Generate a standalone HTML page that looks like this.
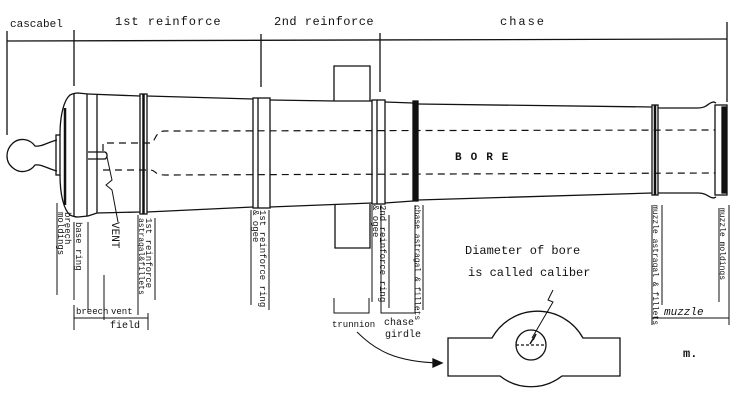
<!DOCTYPE html>
<html><head><meta charset="utf-8"><style>
html,body{margin:0;padding:0;background:#fff;}
svg{display:block;}
text{font-family:"Liberation Mono","DejaVu Sans Mono",monospace;fill:#111;}
.v{font-size:9px;}
</style></head><body>
<svg width="737" height="400" viewBox="0 0 737 400" xmlns="http://www.w3.org/2000/svg" stroke="#111" fill="none" stroke-width="1.3">
<line x1="7" y1="41" x2="727" y2="39"/>
<line x1="7" y1="31" x2="7" y2="135"/>
<line x1="74" y1="30" x2="74" y2="86"/>
<line x1="261" y1="34" x2="261" y2="87"/>
<line x1="380" y1="33" x2="380" y2="92"/>
<line x1="727" y1="22" x2="727" y2="102"/>
<g stroke="none" font-size="12">
<text x="10" y="27" font-size="11">cascabel</text>
<text x="115" y="25" letter-spacing="1">1st  reinforce</text>
<text x="274" y="25" letter-spacing="0.5">2nd reinforce</text>
<text x="500" y="25" letter-spacing="2">chase</text>
</g>
<path d="M57,140 C48,142 42,147 35,146 C30,139 20,137 13,143 C5,150 5,162 13,168 C20,174 30,172 35,165 C42,164 48,169 57,171"/>
<rect x="56" y="135" width="4" height="40"/>
<path d="M60,135 C60,115 64,100 70,95 C72,94 74,93 78,93 L88,94"/>
<path d="M60,175 C60,195 64,210 70,215 C72,216 74,217 78,217 L88,216"/>
<line x1="65" y1="108" x2="65" y2="205" stroke-width="2.5"/>
<line x1="74" y1="93" x2="74" y2="217"/>
<line x1="87" y1="94" x2="87" y2="216"/>
<line x1="97" y1="95" x2="97" y2="213"/>
<path d="M88,94 L140,96 M147,96 L253,99 M270,100 L334,101 L372,101 M385,102 L413,103 M418,104 L652,107 M658,108 L698,108 C708,108 708,102 714,102 L716,103"/>
<path d="M88,216 L97,213 L140,212 M147,212 L253,207 M270,207 L372,203 M385,203 L413,201 M418,200 L652,193 M658,193 L698,193 C708,193 708,198 714,198 L716,197"/>
<rect x="140" y="94" width="7" height="120"/><line x1="143.5" y1="94" x2="143.5" y2="214" stroke-width="2.5"/>
<rect x="253" y="98" width="17" height="110"/><line x1="258" y1="98" x2="258" y2="208"/>
<rect x="372" y="100" width="13" height="104"/><line x1="377" y1="100" x2="377" y2="204"/>
<rect x="413" y="101" width="5" height="100" fill="#111"/>
<rect x="652" y="105" width="6" height="90"/><line x1="655" y1="105" x2="655" y2="195" stroke-width="2.5"/>
<rect x="715" y="105" width="12" height="90"/><rect x="722" y="107" width="4" height="86" fill="#111"/>
<path d="M334,101 L334,66 L370,66 L370,101"/>
<path d="M335,205 L335,248 L370,248 L370,204"/>
<g stroke-dasharray="7,5" stroke-width="1.2">
<path d="M103,151 L103,143 L150,143 C156,143 154,131 165,131 L715,130"/>
<path d="M103,170 L150,170 C156,170 154,175 165,175 L715,173"/>
</g>
<path d="M88,152 L105,152 A4,4 0 0 1 105,159 L88,159"/>
<path d="M107,157 L112,180 L106,185 L112,190 L118,222" stroke-width="1"/>
<text x="455" y="160" stroke="none" font-size="11" letter-spacing="9" font-weight="bold">BORE</text>
<g stroke-width="1">
<line x1="57" y1="203" x2="57" y2="295"/>
<line x1="74" y1="222" x2="74" y2="300"/><line x1="88" y1="222" x2="88" y2="310"/>
<line x1="104" y1="275" x2="104" y2="320"/>
<line x1="74" y1="305" x2="74" y2="330"/><line x1="74" y1="318" x2="148" y2="318"/><line x1="148" y1="313" x2="148" y2="330"/>
<line x1="138" y1="215" x2="138" y2="315"/><line x1="155" y1="218" x2="155" y2="300"/>
<line x1="251" y1="210" x2="251" y2="305"/><line x1="269" y1="210" x2="269" y2="310"/>
<line x1="372" y1="205" x2="372" y2="302"/><line x1="389" y1="215" x2="389" y2="308"/>
<path d="M334,298 L334,313 L369,313 L369,298"/>
<path d="M381,205 L381,313 L415,313 L415,205"/>
<line x1="423" y1="205" x2="423" y2="310"/>
<line x1="652" y1="205" x2="652" y2="325"/><line x1="662" y1="205" x2="662" y2="305"/>
<line x1="729" y1="205" x2="729" y2="325"/><line x1="719" y1="208" x2="719" y2="302"/>
<line x1="652" y1="318" x2="729" y2="318"/>
</g>
<g stroke="none" class="v">
<text transform="translate(58,212) rotate(90)">moldings</text>
<text transform="translate(65,212) rotate(90)">breech</text>
<text transform="translate(76,222) rotate(90)">base ring</text>
<text transform="translate(112,222) rotate(90)" font-size="11">VENT</text>
<text transform="translate(139,218) rotate(90)" font-size="8">astragal&amp;fillets</text>
<text transform="translate(146,218) rotate(90)">1st reinforce</text>
<text transform="translate(253,210) rotate(90)">&amp; ogee</text>
<text transform="translate(260,210) rotate(90)">1st reinforce ring</text>
<text transform="translate(373,205) rotate(90)">&amp; ogee</text>
<text transform="translate(380,205) rotate(90)">2nd reinforce ring</text>
<text transform="translate(415,205) rotate(90)" font-size="8">chase astragal &amp; fillets</text>
<text transform="translate(653,205) rotate(90)" font-size="8">muzzle astragal &amp; fillets</text>
<text transform="translate(720,208) rotate(90)" font-size="8">muzzle moldings</text>
<text x="76" y="314" font-size="9">breech</text>
<text x="111" y="314" font-size="9">vent</text>
<text x="110" y="328" font-size="10">field</text>
<text x="332" y="327" font-size="9">trunnion</text>
<text x="384" y="325" font-size="10">chase</text>
<text x="385" y="337" font-size="10">girdle</text>
<text x="664" y="315" font-size="11" font-style="italic">muzzle</text>
<text x="465" y="254" font-size="12" font-family="Liberation Serif">Diameter of  bore</text>
<text x="468" y="276" font-size="12">is called caliber</text>
<text x="683" y="357" font-size="12" font-weight="bold" font-family="Liberation Serif">m.</text>
</g>
<path d="M492,338 L448,338 L448,376 L500,376 A50,50 0 0 0 562,376 L620,376 L620,338 L583,338 A52,52 0 0 0 492,338 Z"/>
<circle cx="531" cy="345" r="15"/>
<line x1="516" y1="345" x2="546" y2="345" stroke-dasharray="3,2"/>
<path d="M553,290 L548,300 L553,302 L532,338" stroke-width="1"/>
<path d="M530,344 L536,334 L533,340" stroke-width="1.5"/>
<path d="M357,332 C375,350 395,362 440,363" stroke-width="1"/>
<path d="M433,359 L442,363 L433,367 Z" fill="#111"/>
</svg>
</body></html>
